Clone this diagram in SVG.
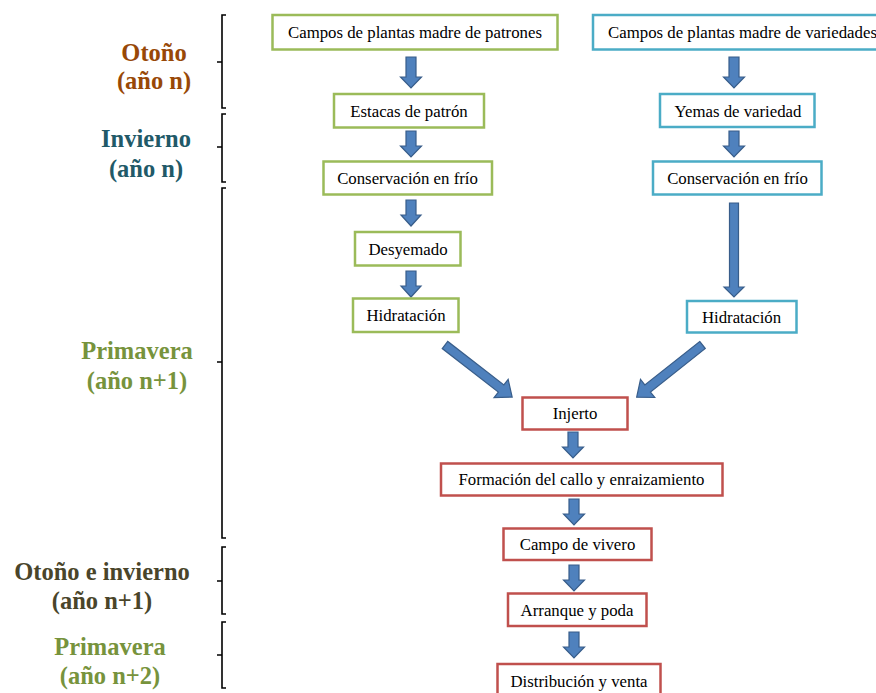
<svg xmlns="http://www.w3.org/2000/svg" width="876" height="693" viewBox="0 0 876 693">
<style>
  .bx { fill: #ffffff; stroke-width: 2.5; }
  .g { stroke: #9BBB59; }
  .c { stroke: #4BACC6; }
  .r { stroke: #C0504D; }
  .t { font-family: "Liberation Serif", "Times New Roman", serif; font-size: 16.8px; fill: #000000; text-anchor: middle; }
  .lab { font-family: "Liberation Serif", "Times New Roman", serif; font-size: 24.5px; font-weight: bold; text-anchor: middle; }
  .ar { fill: #4F81BD; stroke: #385D8A; stroke-width: 1.2; stroke-linejoin: miter; }
  .br { fill: none; stroke: #000000; stroke-width: 1.6; }
</style>

<g id="season-labels">
  <text class="lab" x="154" y="61" fill="#984807">Otoño</text>
  <text class="lab" x="154" y="89" fill="#984807">(año n)</text>
  <text class="lab" x="146" y="147" fill="#215968">Invierno</text>
  <text class="lab" x="146" y="177" fill="#215968">(año n)</text>
  <text class="lab" x="137" y="359" fill="#77933C">Primavera</text>
  <text class="lab" x="137" y="389" fill="#77933C">(año n+1)</text>
  <text class="lab" x="102" y="580" fill="#4A452A">Otoño e invierno</text>
  <text class="lab" x="102" y="609" fill="#4A452A">(año n+1)</text>
  <text class="lab" x="110" y="655" fill="#77933C">Primavera</text>
  <text class="lab" x="110" y="684" fill="#77933C">(año n+2)</text>
</g>

<g id="brackets">
  <path class="br" d="M226,15 H222 V108 H226 M217,62 H222"/>
  <path class="br" d="M226,114 H222 V182 H226 M217,147 H222"/>
  <path class="br" d="M226,188 H222 V538 H226 M217,362 H222"/>
  <path class="br" d="M226,547 H222 V614 H226 M217,581 H222"/>
  <path class="br" d="M226,622 H222 V688 H226 M217,655 H222"/>
</g>

<g id="connectors">
  <!-- left column -->
  <polygon class="ar" points="406,57 416,57 416,77 421.5,77 411,88 400.5,77 406,77"/>
  <polygon class="ar" points="406,131 416,131 416,146 421.5,146 411,157 400.5,146 406,146"/>
  <polygon class="ar" points="406,200 416,200 416,215 421,215 411,226 401,215 406,215"/>
  <polygon class="ar" points="406,271 416,271 416,286 421,286 411,297 401,286 406,286"/>
  <!-- right column -->
  <polygon class="ar" points="729,57 739,57 739,77 744.5,77 734,88 723.5,77 729,77"/>
  <polygon class="ar" points="729,131 739,131 739,146 744.5,146 734,157 723.5,146 729,146"/>
  <polygon class="ar" points="729.5,203 738.5,203 738.5,287 744,287 734,297 724,287 729.5,287"/>
  <!-- diagonals -->
  <polygon class="ar" transform="translate(445,345) rotate(-52.2)" points="-4.5,0 4.5,0 4.5,71 11.5,71 0,85 -11.5,71 -4.5,71"/>
  <polygon class="ar" transform="translate(702.5,345) rotate(51.6)" points="-4.5,0 4.5,0 4.5,70 11.5,70 0,84 -11.5,70 -4.5,70"/>
  <!-- center column -->
  <polygon class="ar" points="568,432 578,432 578,447 583.5,447 573,458 562.5,447 568,447"/>
  <polygon class="ar" points="569,499 579,499 579,514 584.5,514 574,525 563.5,514 569,514"/>
  <polygon class="ar" points="569,565 579,565 579,580 584.5,580 574,591 563.5,580 569,580"/>
  <polygon class="ar" points="569,632 579,632 579,647 584.5,647 574,658 563.5,647 569,647"/>
</g>

<g id="n-campos-patrones">
  <rect class="bx g" x="272.5" y="15" width="285" height="34.5"/>
  <text class="t" x="415" y="38">Campos de plantas madre de patrones</text>
</g>
<g id="n-estacas">
  <rect class="bx g" x="334" y="94" width="150" height="33.5"/>
  <text class="t" x="409" y="116.5">Estacas de patrón</text>
</g>
<g id="n-conservacion-l">
  <rect class="bx g" x="323.5" y="161.5" width="168.5" height="33"/>
  <text class="t" x="407.5" y="183.5">Conservación en frío</text>
</g>
<g id="n-desyemado">
  <rect class="bx g" x="355" y="232" width="105.5" height="33.5"/>
  <text class="t" x="408" y="254.5">Desyemado</text>
</g>
<g id="n-hidratacion-l">
  <rect class="bx g" x="353" y="298.5" width="105.5" height="33.5"/>
  <text class="t" x="406" y="321">Hidratación</text>
</g>

<g id="n-campos-variedades">
  <rect class="bx c" x="593" y="15" width="300" height="34.5"/>
  <text class="t" x="742.5" y="38">Campos de plantas madre de variedades</text>
</g>
<g id="n-yemas">
  <rect class="bx c" x="660" y="94" width="154.5" height="33"/>
  <text class="t" x="738" y="116.5">Yemas de variedad</text>
</g>
<g id="n-conservacion-r">
  <rect class="bx c" x="653" y="161.5" width="168.5" height="33"/>
  <text class="t" x="737.5" y="183.5">Conservación en frío</text>
</g>
<g id="n-hidratacion-r">
  <rect class="bx c" x="687" y="301" width="109.5" height="31.5"/>
  <text class="t" x="741.5" y="322.5">Hidratación</text>
</g>

<g id="n-injerto">
  <rect class="bx r" x="522.5" y="397.5" width="105" height="32"/>
  <text class="t" x="575" y="419">Injerto</text>
</g>
<g id="n-formacion">
  <rect class="bx r" x="441" y="463.5" width="281.5" height="32"/>
  <text class="t" x="581.5" y="485">Formación del callo y enraizamiento</text>
</g>
<g id="n-campo-vivero">
  <rect class="bx r" x="503.5" y="528.5" width="148" height="31.5"/>
  <text class="t" x="577.5" y="550">Campo de vivero</text>
</g>
<g id="n-arranque">
  <rect class="bx r" x="508" y="593.5" width="138.5" height="32.5"/>
  <text class="t" x="577" y="615.5">Arranque y poda</text>
</g>
<g id="n-distribucion">
  <rect class="bx r" x="497.5" y="664" width="163" height="34"/>
  <text class="t" x="579" y="687">Distribución y venta</text>
</g>
</svg>
